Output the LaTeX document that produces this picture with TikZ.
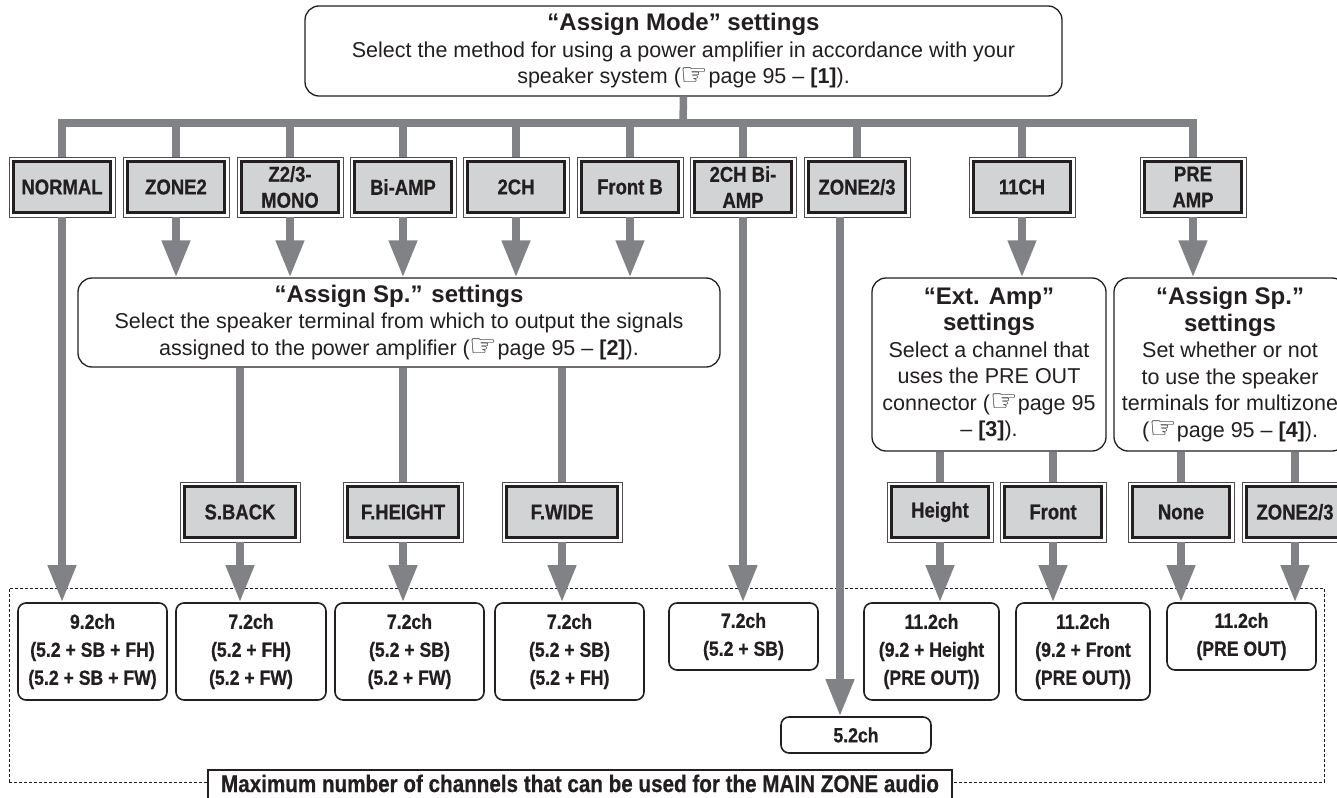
\documentclass[tikz,border=0pt]{standalone}
\usepackage{fontspec}
\setmainfont{Liberation Sans}
\newfontface\condb[FakeStretch=0.86,FakeBold=0.6]{Liberation Sans Bold}
\newfontfamily\sym{DejaVu Sans}
\usetikzlibrary{arrows.meta,calc}
\definecolor{arrowgray}{RGB}{128,130,133}
\definecolor{btngray}{RGB}{209,211,212}
\definecolor{txt}{RGB}{35,31,32}
\newcommand{\bodyf}{\fontsize{21.5}{26.5}\selectfont}
\newcommand{\titlef}{\fontsize{24}{26.5}\selectfont\bfseries}
\newcommand{\btnf}{\condb\fontsize{21.5}{26}\selectfont}
\newcommand{\resf}{\condb\fontsize{20.5}{28}\selectfont}
\newcommand{\hand}{\raisebox{-1.5pt}[0pt][0pt]{\sym\fontsize{31}{31}\selectfont ☞}}
\begin{document}
\begin{tikzpicture}[x=1pt,y=-1pt,
  conn/.style={draw=arrowgray, line width=7.5pt},
  arr/.style={conn, -{Triangle[length=37pt,width=27pt]}},
  infobox/.style={draw=txt, line width=1.3pt, rounded corners=14pt, fill=white,
    inner sep=0pt, align=center, text=txt, font=\bodyf},
  btn/.style={draw=txt!80, line width=0.7pt, fill=white, minimum height=60pt,
    inner sep=0pt, align=center, text=txt, font=\btnf,
    path picture={\draw[draw=txt, line width=3.2pt, fill=btngray]
      ([shift={(4.8pt,4.8pt)}]path picture bounding box.south west) rectangle
      ([shift={(-4.8pt,-4.8pt)}]path picture bounding box.north east);}},
  res/.style={draw=txt, line width=1.6pt, rounded corners=8pt, fill=white,
    inner sep=0pt, align=center, text=txt, font=\resf, minimum height=97pt},
]
\useasboundingbox (0,0) rectangle (1337,797);

% dashed frame and its label
\node[draw=txt, dash pattern=on 3pt off 2pt, line width=0.8pt, minimum width=1315pt,
  minimum height=194pt, inner sep=0pt] (frame) at (666.5,685) {};
\node[draw=txt, line width=1.3pt, fill=white, minimum width=744pt, inner sep=0pt,
  text height=22pt, text depth=20pt, anchor=base, text=txt,
  font=\condb\fontsize{24}{25}\selectfont] (maxlbl) at (580,792)
  {Maximum number of channels that can be used for the MAIN ZONE audio};

% top box
\node[infobox, minimum width=757pt, minimum height=90pt] (mode) at (683.5,51)
  {{\titlef “Assign Mode” settings}\\
   Select the method for using a power amplifier in accordance with your\\
   speaker system (\hand page 95 – \textbf{[1]}).};

% mode buttons
\node[btn, minimum width=106pt] (bnormal) at (62,187) {NORMAL};
\node[btn, minimum width=106pt] (bzone2)  at (176,187) {ZONE2};
\node[btn, minimum width=106pt] (bz23)    at (290,187) {Z2/3-\\MONO};
\node[btn, minimum width=106pt] (bbiamp)  at (403,187) {Bi-AMP};
\node[btn, minimum width=106pt] (b2ch)    at (516,187) {2CH};
\node[btn, minimum width=106pt] (bfrontb) at (630,187) {Front B};
\node[btn, minimum width=106pt] (b2chbi)  at (743,187) {2CH Bi-\\AMP};
\node[btn, minimum width=106pt] (bzone23) at (857,187) {ZONE2/3};
\node[btn, minimum width=106pt] (b11ch)   at (1022,187) {11CH};
\node[btn, minimum width=106pt] (bpre)    at (1193,187) {PRE\\AMP};

% settings boxes
\node[infobox, minimum width=642pt, minimum height=89pt] (aspL) at (399,322.5)
  {{\titlef “Assign Sp.” settings}\\
   Select the speaker terminal from which to output the signals\\
   assigned to the power amplifier (\hand page 95 – \textbf{[2]}).};
\node[infobox, minimum width=234pt, minimum height=173pt] (ext) at (989,364.5)
  {{\titlef “Ext. Amp”}\\{\titlef settings}\\
   Select a channel that\\uses the PRE OUT\\connector (\hand page 95\\– \textbf{[3]}).};
\node[infobox, minimum width=232pt, minimum height=173pt] (aspR) at (1230,364.5)
  {{\titlef “Assign Sp.”}\\{\titlef settings}\\
   Set whether or not\\to use the speaker\\terminals for multizone\\(\hand page 95 – \textbf{[4]}).};

% second-level buttons
\node[btn, minimum width=120pt] (sback)   at (240,512) {S.BACK};
\node[btn, minimum width=120pt] (fheight) at (403,512) {F.HEIGHT};
\node[btn, minimum width=120pt] (fwide)   at (562,512) {F.WIDE};
\node[btn, minimum width=106pt] (height)  at (940,512) {Height};
\node[btn, minimum width=106pt] (front)   at (1053,512) {Front};
\node[btn, minimum width=106pt] (none)    at (1181,512) {None};
\node[btn, minimum width=106pt] (zbtn)    at (1295,512) {ZONE2/3};

% result boxes
\node[res, minimum width=149pt] (r1) at (92.5,651.5) {9.2ch\\(5.2 + SB + FH)\\(5.2 + SB + FW)};
\node[res, minimum width=150pt] (r2) at (251,651.5) {7.2ch\\(5.2 + FH)\\(5.2 + FW)};
\node[res, minimum width=149pt] (r3) at (409.5,651.5) {7.2ch\\(5.2 + SB)\\(5.2 + FW)};
\node[res, minimum width=149pt] (r4) at (569.5,651.5) {7.2ch\\(5.2 + SB)\\(5.2 + FH)};
\node[res, minimum width=149pt, minimum height=67pt] (r5) at (743.5,636.5) {7.2ch\\(5.2 + SB)};
\node[res, minimum width=135pt] (r6) at (931.5,651.5) {11.2ch\\(9.2 + Height\\(PRE OUT))};
\node[res, minimum width=134pt] (r7) at (1083,651.5) {11.2ch\\(9.2 + Front\\(PRE OUT))};
\node[res, minimum width=149pt, minimum height=67pt] (r8) at (1241.5,636.5) {11.2ch\\(PRE OUT)};
\node[res, minimum width=150pt, minimum height=36pt] (r9) at (856,735) {5.2ch};

% bus and stems
\coordinate (bus) at (683,123);
\draw[conn] (mode.south) -- (bus);
\draw[conn, line join=miter] (bnormal.north) |- (bus) -| (bpre.north);
\foreach \n in {bzone2,bz23,bbiamp,b2ch,bfrontb,b2chbi,bzone23,b11ch}
  \draw[conn] (\n.north |- bus) -- (\n.north);

% arrows from mode buttons
\draw[arr] (bnormal.south) -- (bnormal.south |- r1.north);
\foreach \n in {bzone2,bz23,bbiamp,b2ch,bfrontb}
  \draw[arr] (\n.south) -- (\n.south |- aspL.north);
\draw[arr] (b2chbi.south) -- (b2chbi.south |- r5.north);
\draw[arr] ([xshift=-17pt]bzone23.south) -- ([xshift=-17pt]bzone23.south |- r9.north);
\draw[arr] (b11ch.south) -- (b11ch.south |- ext.north);
\draw[arr] (bpre.south) -- (bpre.south |- aspR.north);

% stems from settings boxes
\foreach \n in {sback,fheight,fwide}
  \draw[conn] (\n.north |- aspL.south) -- (\n.north);
\foreach \n in {height,front}
  \draw[conn] (\n.north |- ext.south) -- (\n.north);
\foreach \n in {none,zbtn}
  \draw[conn] (\n.north |- aspR.south) -- (\n.north);

% arrows to results
\draw[arr] (sback.south) -- (sback.south |- r2.north);
\draw[arr] (fheight.south) -- (fheight.south |- r3.north);
\draw[arr] (fwide.south) -- (fwide.south |- r4.north);
\draw[arr] (height.south) -- (height.south |- r6.north);
\draw[arr] (front.south) -- (front.south |- r7.north);
\draw[arr] (none.south) -- (none.south |- r8.north);
\draw[arr] (zbtn.south) -- (zbtn.south |- r8.north);
\end{tikzpicture}
\end{document}
